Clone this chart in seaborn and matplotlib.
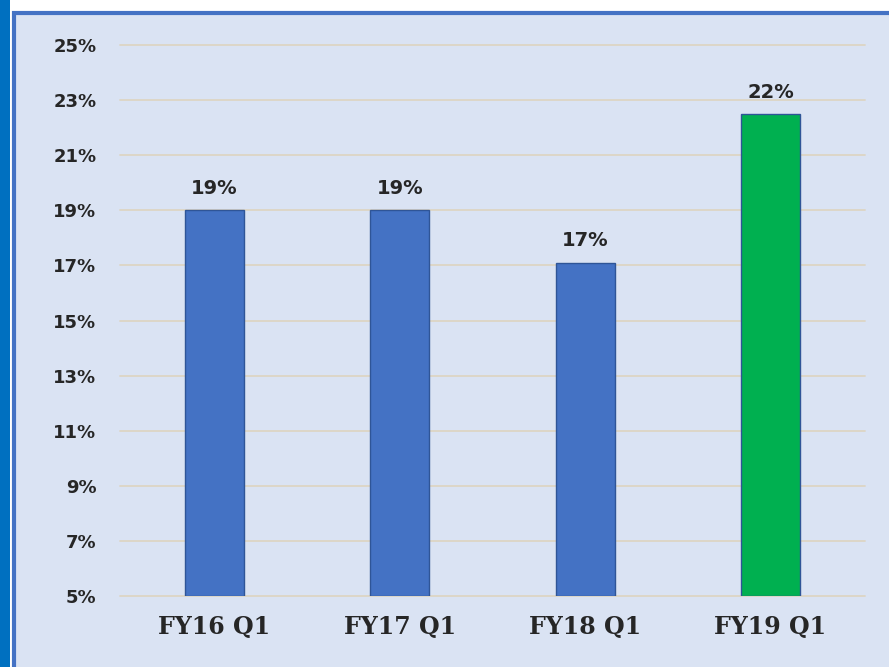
import numpy as np
import matplotlib
matplotlib.use('Agg')
import matplotlib.pyplot as plt
from matplotlib.patches import Rectangle
import seaborn as sns
import pandas as pd

quarters = ['FY16 Q1', 'FY17 Q1', 'FY18 Q1', 'FY19 Q1']
growth = [19.0, 19.0, 17.1, 22.5]
bar_colors = ['#4472C4', '#4472C4', '#4472C4', '#00B050']
y_ticks = list(range(5, 26, 2))

df = pd.DataFrame({'quarter': quarters, 'growth': growth})

sns.set_style('white')
fig = plt.figure(figsize=(8.89, 6.67), dpi=100, facecolor='white')

# panel background and borders
fig.patches.append(Rectangle((0.0, 0.0), 0.011, 1.0, transform=fig.transFigure,
                             facecolor='#0070C0', edgecolor='none', zorder=-10))
fig.patches.append(Rectangle((0.016, -0.02), 1.0, 1.0, transform=fig.transFigure,
                             facecolor='#DAE3F3', edgecolor='#4472C4', linewidth=3, zorder=-10))

ax = fig.add_axes([0.135, 0.1064, 0.838, 0.8261])
ax.set_facecolor('none')

sns.barplot(data=df, x='quarter', y='growth', hue='quarter', palette=bar_colors,
            saturation=1, legend=False, width=0.32, ax=ax, edgecolor='#2F5597',
            linewidth=1, zorder=3)

for bar in ax.patches:
    bar.set_y(5)
    bar.set_height(bar.get_height() - 5)

for i, v in enumerate(growth):
    ax.text(i, v + 0.45, f'{int(v)}%', ha='center', va='bottom',
            fontsize=14, fontweight='bold', color='#262626', family='DejaVu Sans')

ax.set_ylim(5, 25)
ax.set_xlim(-0.51, 3.51)
ax.set_yticks(y_ticks)
ax.set_yticklabels([f'{t}%' for t in y_ticks], fontsize=13, fontweight='bold',
                   color='#262626')
ax.yaxis.grid(True, color='#DDD5C4', linewidth=1.3, zorder=0)
for gl in ax.get_ygridlines():
    gl.set_clip_on(False)
ax.set_axisbelow(True)
for s in ax.spines.values():
    s.set_visible(False)
ax.tick_params(axis='both', length=0)
ax.tick_params(axis='y', pad=17)
ax.tick_params(axis='x', pad=14)
for lbl in ax.get_xticklabels():
    lbl.set_family('DejaVu Serif')
    lbl.set_fontweight('bold')
    lbl.set_fontsize(17)
    lbl.set_color('#262626')
ax.set_xlabel('')
ax.set_ylabel('')

fig.savefig('out.png', dpi=100, facecolor='white')
